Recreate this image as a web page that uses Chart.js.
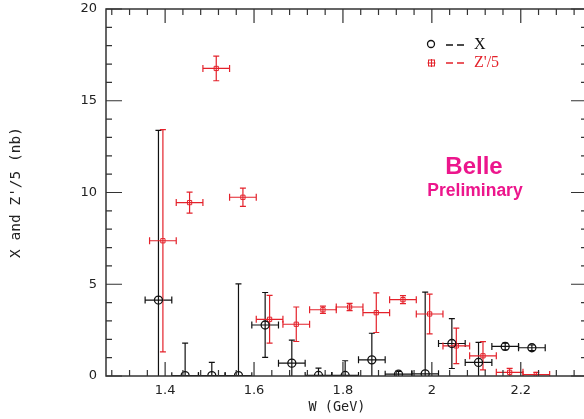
<!DOCTYPE html>
<html>
<head>
<meta charset="utf-8">
<script src="https://cdn.jsdelivr.net/npm/chart.js@4.4.0/dist/chart.umd.min.js"></script>
<style>
  html, body { margin: 0; padding: 0; background: #fff; overflow: hidden; }
  canvas { display: block; }
</style>
</head>
<body>
<canvas id="xsec" width="584" height="419"></canvas>
<script>
// W bin centres (GeV) and cross sections (nb)
const wX = [1.385, 1.445, 1.505, 1.565, 1.625, 1.685, 1.745, 1.805, 1.865, 1.925, 1.985, 2.045, 2.105, 2.165, 2.225];
const xSigma = [4.14, 0.02, 0.02, 0.02, 2.78, 0.70, 0.03, 0.03, 0.88, 0.10, 0.12, 1.77, 0.74, 1.61, 1.54];
const xSigmaErr = [9.25, 1.77, 0.72, 5.00, 1.77, 1.25, 0.40, 0.80, 1.45, 0.15, 4.45, 1.36, 1.09, 0.18, 0.15];

const wZ = [1.395, 1.455, 1.515, 1.575, 1.635, 1.695, 1.755, 1.815, 1.875, 1.935, 1.995, 2.055, 2.115, 2.175, 2.235];
const zSigma = [7.37, 9.45, 16.76, 9.74, 3.09, 2.82, 3.61, 3.76, 3.45, 4.16, 3.38, 1.64, 1.10, 0.20, 0.08];
const zSigmaErr = [6.06, 0.57, 0.67, 0.50, 1.30, 0.94, 0.20, 0.20, 1.08, 0.22, 1.08, 0.97, 0.77, 0.22, 0.12];

const binHalf = 0.03;
const xTicks = [1.4, 1.6, 1.8, 2.0, 2.2];
const yTicks = [0, 5, 10, 15, 20];

const BLACK = '#111';
const RED = '#e4222b';
const PINK = '#ec168c';

function points(xs, ys) {
  return xs.map((x, i) => ({ x: x, y: ys[i] }));
}

function noPad(s) {
  s.paddingLeft = 0;
  s.paddingRight = 0;
  s.paddingTop = 0;
  s.paddingBottom = 0;
}

// let the plot frame run a few pixels past the right edge of the canvas
const wideFrame = {
  id: 'wideFrame',
  afterLayout(chart) {
    const x = chart.scales.x;
    const right = 587;
    chart.chartArea.right = right;
    chart.chartArea.width = right - chart.chartArea.left;
    x.right = right;
    x.width = right - x.left;
    x.configure();
  }
};

// error bars with end caps, clipped to the plot frame
const errorBars = {
  id: 'errorBars',
  beforeDatasetsDraw(chart) {
    const { ctx, chartArea: a, scales: { x, y } } = chart;
    ctx.save();
    ctx.beginPath();
    ctx.rect(a.left, a.top, a.right - a.left, a.bottom - a.top);
    ctx.clip();
    chart.data.datasets.forEach(ds => {
      ctx.strokeStyle = ds.borderColor;
      ctx.lineWidth = 1.2;
      ds.data.forEach((p, i) => {
        const px = x.getPixelForValue(p.x);
        const py = y.getPixelForValue(p.y);
        const x0 = x.getPixelForValue(p.x - ds.xErr);
        const x1 = x.getPixelForValue(p.x + ds.xErr);
        const y0 = y.getPixelForValue(p.y - ds.yErr[i]);
        const y1 = y.getPixelForValue(p.y + ds.yErr[i]);
        ctx.beginPath();
        ctx.moveTo(x0, py); ctx.lineTo(x1, py);
        ctx.moveTo(x0, py - 3.5); ctx.lineTo(x0, py + 3.5);
        ctx.moveTo(x1, py - 3.5); ctx.lineTo(x1, py + 3.5);
        ctx.moveTo(px, y0); ctx.lineTo(px, y1);
        ctx.moveTo(px - 3, y0); ctx.lineTo(px + 3, y0);
        ctx.moveTo(px - 3, y1); ctx.lineTo(px + 3, y1);
        ctx.stroke();
      });
    });
    ctx.restore();
  }
};

// frame with inward major/minor ticks on all four sides, plus legend and label
const frame = {
  id: 'frame',
  afterDraw(chart) {
    const { ctx, chartArea: a, scales: { x, y } } = chart;
    ctx.save();
    ctx.strokeStyle = '#333';
    ctx.lineWidth = 1.5;
    ctx.strokeRect(a.left, a.top, a.right - a.left, a.bottom - a.top);

    ctx.lineWidth = 1.2;
    ctx.beginPath();
    for (let k = Math.ceil(x.min / 0.04); k * 0.04 <= x.max; k++) {
      const v = k * 0.04;
      const major = Math.abs(v / 0.2 - Math.round(v / 0.2)) < 1e-6;
      const len = major ? 14 : 6;
      const px = x.getPixelForValue(v);
      ctx.moveTo(px, a.bottom); ctx.lineTo(px, a.bottom - len);
      ctx.moveTo(px, a.top); ctx.lineTo(px, a.top + len);
    }
    for (let v = 0; v <= 20; v++) {
      const len = v % 5 === 0 ? 16 : 6;
      const py = y.getPixelForValue(v);
      ctx.moveTo(a.left, py); ctx.lineTo(a.left + len, py);
      ctx.moveTo(a.right, py); ctx.lineTo(a.right - len, py);
    }
    ctx.stroke();

    // x-axis title
    ctx.fillStyle = '#222';
    ctx.font = '13.5px "DejaVu Sans Mono"';
    ctx.textAlign = 'center';
    ctx.textBaseline = 'middle';
    ctx.fillText('W (GeV)', 337, 407);

    // legend
    ctx.textAlign = 'left';
    ctx.font = '16px "Liberation Serif"';
    ctx.lineWidth = 1.3;
    ctx.strokeStyle = BLACK;
    ctx.beginPath();
    ctx.arc(431, 44, 3.5, 0, Math.PI * 2);
    ctx.stroke();
    ctx.setLineDash([7, 4]);
    ctx.beginPath();
    ctx.moveTo(446, 45); ctx.lineTo(465, 45);
    ctx.stroke();
    ctx.fillStyle = BLACK;
    ctx.fillText('X', 474, 45);

    ctx.strokeStyle = RED;
    ctx.beginPath();
    ctx.moveTo(446, 63); ctx.lineTo(465, 63);
    ctx.stroke();
    ctx.setLineDash([]);
    ctx.lineWidth = 1;
    ctx.strokeRect(428.5, 60, 6, 6);
    ctx.beginPath();
    ctx.moveTo(431.5, 59); ctx.lineTo(431.5, 67);
    ctx.moveTo(427.5, 63); ctx.lineTo(435.5, 63);
    ctx.stroke();
    ctx.fillStyle = RED;
    ctx.fillText("Z'/5", 474, 63);

    // experiment tag
    ctx.fillStyle = PINK;
    ctx.textAlign = 'center';
    ctx.textBaseline = 'alphabetic';
    ctx.font = 'bold 24px "Liberation Sans"';
    ctx.fillText('Belle', 474, 174);
    ctx.font = 'bold 17.5px "Liberation Sans"';
    ctx.fillText('Preliminary', 475, 196);
    ctx.restore();
  }
};

new Chart(document.getElementById('xsec'), {
  type: 'scatter',
  data: {
    datasets: [
      {
        label: 'X',
        data: points(wX, xSigma),
        yErr: xSigmaErr,
        xErr: binHalf,
        borderColor: BLACK,
        backgroundColor: 'rgba(0,0,0,0)',
        pointStyle: 'circle',
        pointRadius: 4,
        pointBorderWidth: 1.3,
        pointHoverRadius: 4
      },
      {
        label: "Z'/5",
        data: points(wZ, zSigma),
        yErr: zSigmaErr,
        xErr: binHalf,
        borderColor: RED,
        backgroundColor: 'rgba(0,0,0,0)',
        pointStyle: 'rect',
        pointRadius: 3,
        pointBorderWidth: 1,
        pointHoverRadius: 3
      }
    ]
  },
  options: {
    responsive: false,
    animation: false,
    layout: { padding: { top: 9, right: 1, left: 0, bottom: 0 } },
    plugins: {
      legend: { display: false },
      tooltip: { enabled: false }
    },
    scales: {
      x: {
        type: 'linear',
        min: 1.267,
        max: 2.349,
        grid: { display: false, drawTicks: false },
        border: { display: false },
        afterBuildTicks: s => { s.ticks = xTicks.map(v => ({ value: v })); },
        afterFit: s => { s.height = 43; noPad(s); },
        ticks: {
          padding: 7,
          color: '#222',
          font: { family: 'DejaVu Sans', size: 13 },
          callback: v => String(v)
        },
        title: { display: false }
      },
      y: {
        min: 0,
        max: 20,
        grid: { display: false, drawTicks: false },
        border: { display: false },
        afterBuildTicks: s => { s.ticks = yTicks.map(v => ({ value: v })); },
        afterFit: s => { s.width = 106; noPad(s); },
        ticks: {
          padding: 9,
          color: '#222',
          font: { family: 'DejaVu Sans', size: 13 }
        },
        title: {
          display: true,
          text: "X and Z'/5 (nb)",
          color: '#222',
          font: { family: 'DejaVu Sans Mono', size: 14.5 },
          padding: { top: 8, bottom: 0 }
        }
      }
    }
  },
  plugins: [wideFrame, errorBars, frame]
});
</script>
</body>
</html>
